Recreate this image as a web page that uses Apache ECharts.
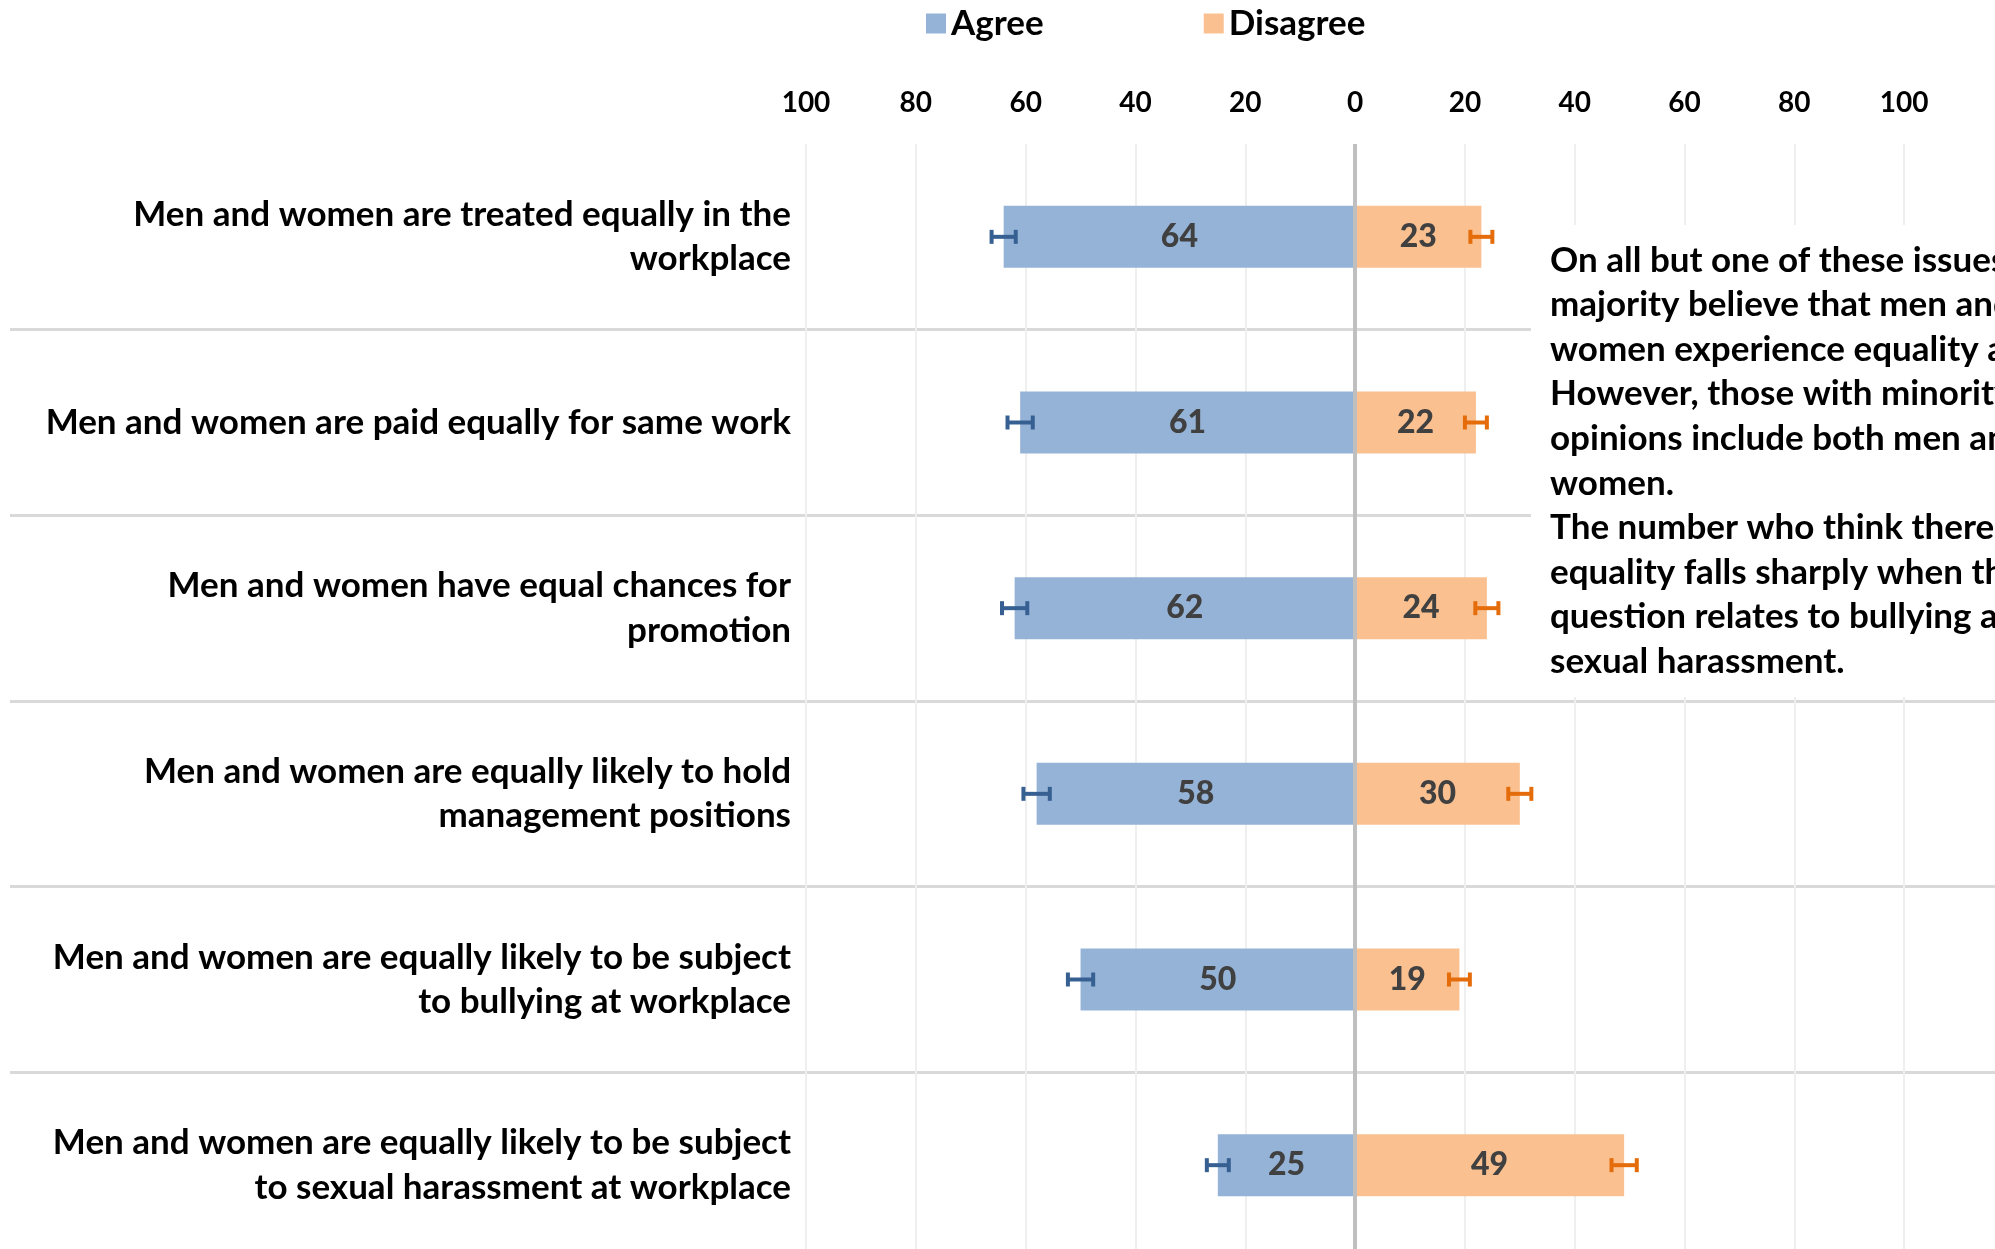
<!DOCTYPE html>
<html>
<head>
<meta charset="utf-8">
<title>Equality at work</title>
<script src="https://cdn.jsdelivr.net/npm/echarts@6/dist/echarts.min.js"></script>
<style>
  html, body { margin: 0; padding: 0; background: #fff; }
  #chart { width: 1995px; height: 1249px; }
</style>
</head>
<body>
<div id="chart"></div>
<script>
// categories, top to bottom
const categories = [
  'Men and women are treated equally in the\nworkplace',
  'Men and women are paid equally for same work',
  'Men and women have equal chances for\npromotion',
  'Men and women are equally likely to hold\nmanagement positions',
  'Men and women are equally likely to be subject\nto bullying at workplace',
  'Men and women are equally likely to be subject\nto sexual harassment at workplace'
]
const agree = [64, 61, 62, 58, 50, 25]
const disagree = [23, 22, 24, 30, 19, 49]
// error bar half widths
const agreeErr = [2.2, 2.3, 2.3, 2.4, 2.3, 2.0]
const disagreeErr = [2.0, 2.0, 2.1, 2.1, 1.9, 2.3]
const axisTicks = [-100, -80, -60, -40, -20, 0, 20, 40, 60, 80, 100]

const noteLines = [
  'On all but one of these issues a',
  'majority believe that men and',
  'women experience equality at work.',
  'However, those with minority',
  'opinions include both men and',
  'women.',
  'The number who think there is',
  'equality falls sharply when the',
  'question relates to bullying and',
  'sexual harassment.'
]

const FONT = 'Lato'
const SEP = '#D9D9D9'

function errorBar(color) {
  return function (params, api) {
    const v = api.value(0)
    const idx = api.value(1)
    const e = api.value(2)
    const a = api.coord([v - e, idx])
    const b = api.coord([v + e, idx])
    const h = 7
    const style = { stroke: color, lineWidth: 4 }
    return {
      type: 'group',
      children: [
        { type: 'line', shape: { x1: a[0], y1: a[1], x2: b[0], y2: b[1] }, style: style },
        { type: 'line', shape: { x1: a[0], y1: a[1] - h, x2: a[0], y2: a[1] + h }, style: style },
        { type: 'line', shape: { x1: b[0], y1: b[1] - h, x2: b[0], y2: b[1] + h }, style: style }
      ]
    }
  }
}

const chart = echarts.init(document.getElementById('chart'))

chart.setOption({
  animation: false,
  textStyle: { fontFamily: FONT },
  legend: {
    left: 921,
    top: 1,
    icon: 'rect',
    itemWidth: 20,
    itemHeight: 20,
    itemGap: 160,
    textStyle: { fontFamily: FONT, fontSize: 35, fontWeight: 'bold', color: '#000' },
    data: ['Agree', 'Disagree']
  },
  grid: [
    // plot
    { left: 806, top: 144, width: 1208, height: 1114, outerBoundsMode: 'none' },
    // row separators running under the labels too
    { left: 10, top: 144, width: 2010, height: 1114, outerBoundsMode: 'none' }
  ],
  xAxis: [
    {
      type: 'value',
      gridIndex: 0,
      position: 'top',
      min: -100,
      max: 120,
      interval: 20,
      axisLine: { show: false },
      axisTick: { show: false },
      axisLabel: {
        margin: 27,
        fontFamily: FONT,
        fontSize: 28,
        fontWeight: 'bold',
        color: '#000',
        formatter: function (v) {
          return axisTicks.indexOf(v) >= 0 ? String(Math.abs(v)) : ''
        }
      },
      splitLine: { lineStyle: { color: '#EFEFEF', width: 2 } }
    },
    {
      type: 'value',
      gridIndex: 1,
      min: 0,
      max: 1,
      show: false
    }
  ],
  yAxis: [
    {
      type: 'category',
      gridIndex: 0,
      inverse: true,
      data: categories,
      axisLine: { show: false },
      axisTick: { show: false },
      splitLine: { show: false },
      axisLabel: {
        margin: 15,
        fontFamily: FONT,
        fontSize: 35,
        fontWeight: 'bold',
        color: '#000',
        lineHeight: 44.5,
        align: 'right',
        padding: [3, 0, 0, 0]
      }
    },
    {
      type: 'category',
      gridIndex: 1,
      inverse: true,
      data: categories,
      axisLine: { show: false },
      axisTick: { show: false },
      axisLabel: { show: false },
      splitLine: {
        show: true,
        showMinLine: false,
        showMaxLine: false,
        lineStyle: { color: SEP, width: 3 }
      }
    }
  ],
  series: [
    {
      name: 'Agree',
      type: 'bar',
      barWidth: 62,
      barGap: '-100%',
      data: agree.map(function (v) { return -v }),
      itemStyle: { color: '#95B3D7' },
      label: {
        show: true,
        position: 'inside',
        fontFamily: FONT,
        fontSize: 32,
        fontWeight: 900,
        color: '#404040',
        formatter: function (p) { return Math.abs(p.value) }
      },
      markLine: {
        silent: true,
        symbol: 'none',
        label: { show: false },
        lineStyle: { color: '#BFBFBF', width: 4, type: 'solid' },
        data: [{ xAxis: 0 }]
      }
    },
    {
      name: 'Disagree',
      type: 'bar',
      barWidth: 62,
      barGap: '-100%',
      data: disagree,
      itemStyle: { color: '#FAC090' },
      label: {
        show: true,
        position: 'inside',
        fontFamily: FONT,
        fontSize: 32,
        fontWeight: 900,
        color: '#404040'
      }
    },
    {
      name: 'agreeErr',
      type: 'custom',
      renderItem: errorBar('#376092'),
      encode: { x: 0, y: 1 },
      data: agree.map(function (v, i) { return [-v, i, agreeErr[i]] }),
      z: 5
    },
    {
      name: 'disagreeErr',
      type: 'custom',
      renderItem: errorBar('#E46C0A'),
      encode: { x: 0, y: 1 },
      data: disagree.map(function (v, i) { return [v, i, disagreeErr[i]] }),
      z: 5
    }
  ],
  graphic: [
    {
      type: 'rect',
      left: 1531,
      top: 225,
      shape: { width: 470, height: 472 },
      style: { fill: '#fff' },
      z: 10
    },
    {
      type: 'text',
      left: 1550,
      top: 238,
      z: 11,
      style: {
        text: noteLines.join('\n'),
        font: 'bold 35px ' + FONT,
        lineHeight: 44.6,
        fill: '#000'
      }
    }
  ]
})
</script>
</body>
</html>
